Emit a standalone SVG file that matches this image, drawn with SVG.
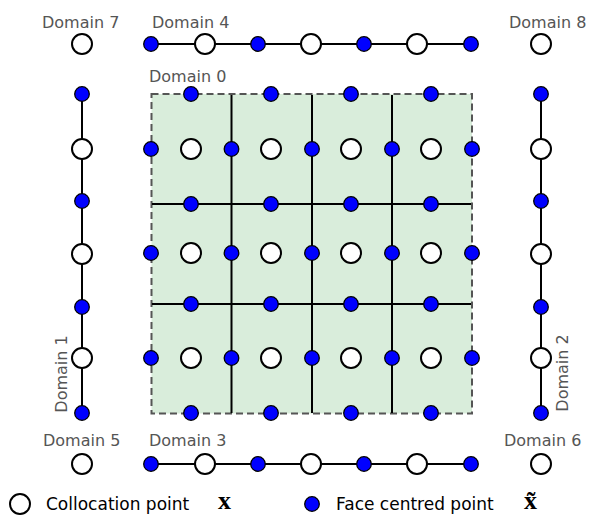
<svg xmlns="http://www.w3.org/2000/svg" width="589" height="515" viewBox="0 0 589 515">
  <style>
    .lbl { font-family: "DejaVu Sans", Verdana, sans-serif; font-size: 16px; fill: #555555; }
    .leg { font-family: "DejaVu Sans", Verdana, sans-serif; font-size: 17px; fill: #000000; }
    .math { font-family: "Liberation Serif", "DejaVu Serif", serif; font-weight: bold; font-size: 26px; fill: #000000; }
    .ln { stroke: #000000; stroke-width: 2; fill: none; }
    .col { fill: #ffffff; stroke: #000000; stroke-width: 2; }
    .fc { fill: #0000ff; stroke: #000000; stroke-width: 1.3; }
  </style>
  <defs>
    <circle id="cp" r="10" class="col"/>
    <circle id="fp" r="7.3" class="fc"/>
  </defs>
  <rect width="589" height="515" fill="#ffffff"/>

  <!-- Domain 0 block: shaded interior with dashed boundary -->
  <g id="domain0-block">
    <rect x="151.5" y="94" width="320.5" height="319.5" fill="#d9eddb" stroke="#555555" stroke-width="2" stroke-dasharray="7,4"/>
  </g>

  <!-- line segments -->
  <g id="connectors">
    <!-- interior cell faces of domain 0 -->
    <line class="ln" x1="152" y1="204" x2="471" y2="204"/>
    <line class="ln" x1="152" y1="304" x2="471" y2="304"/>
    <line class="ln" x1="231.5" y1="95" x2="231.5" y2="413"/>
    <line class="ln" x1="312" y1="95" x2="312" y2="413"/>
    <line class="ln" x1="392" y1="95" x2="392" y2="413"/>
    <!-- edge domains -->
    <line class="ln" x1="151" y1="44" x2="471" y2="44"/>
    <line class="ln" x1="151" y1="464" x2="471" y2="464"/>
    <line class="ln" x1="82" y1="94" x2="82" y2="413"/>
    <line class="ln" x1="541" y1="94" x2="541" y2="413"/>
  </g>

  <g id="domain0">
    <text class="lbl" x="149" y="82">Domain 0</text>
    <!-- horizontal faces -->
    <use href="#fp" x="191" y="94"/><use href="#fp" x="271" y="94"/><use href="#fp" x="351" y="94"/><use href="#fp" x="431" y="94"/>
    <use href="#fp" x="191" y="204"/><use href="#fp" x="271" y="204"/><use href="#fp" x="351" y="204"/><use href="#fp" x="431" y="204"/>
    <use href="#fp" x="191" y="304"/><use href="#fp" x="271" y="304"/><use href="#fp" x="351" y="304"/><use href="#fp" x="431" y="304"/>
    <use href="#fp" x="191" y="413"/><use href="#fp" x="271" y="413"/><use href="#fp" x="351" y="413"/><use href="#fp" x="431" y="413"/>
    <!-- vertical faces -->
    <use href="#fp" x="151" y="149"/><use href="#fp" x="231.5" y="149"/><use href="#fp" x="312" y="149"/><use href="#fp" x="392" y="149"/><use href="#fp" x="472" y="149"/>
    <use href="#fp" x="151" y="253"/><use href="#fp" x="231.5" y="253"/><use href="#fp" x="312" y="253"/><use href="#fp" x="392" y="253"/><use href="#fp" x="472" y="253"/>
    <use href="#fp" x="151" y="358"/><use href="#fp" x="231.5" y="358"/><use href="#fp" x="312" y="358"/><use href="#fp" x="392" y="358"/><use href="#fp" x="472" y="358"/>
    <!-- cell centres -->
    <use href="#cp" x="191" y="149"/><use href="#cp" x="271" y="149"/><use href="#cp" x="351" y="149"/><use href="#cp" x="431" y="149"/>
    <use href="#cp" x="191" y="253"/><use href="#cp" x="271" y="253"/><use href="#cp" x="351" y="253"/><use href="#cp" x="431" y="253"/>
    <use href="#cp" x="191" y="358"/><use href="#cp" x="271" y="358"/><use href="#cp" x="351" y="358"/><use href="#cp" x="431" y="358"/>
  </g>

  <g id="domain1">
    <text class="lbl" transform="translate(67,374) rotate(-90)" text-anchor="middle">Domain 1</text>
    <use href="#fp" x="82" y="94"/><use href="#fp" x="82" y="201"/><use href="#fp" x="82" y="307"/><use href="#fp" x="82" y="413"/>
    <use href="#cp" x="82" y="149"/><use href="#cp" x="82" y="254"/><use href="#cp" x="82" y="358"/>
  </g>

  <g id="domain2">
    <text class="lbl" transform="translate(568,373) rotate(-90)" text-anchor="middle">Domain 2</text>
    <use href="#fp" x="541" y="94"/><use href="#fp" x="541" y="201"/><use href="#fp" x="541" y="307"/><use href="#fp" x="541" y="413"/>
    <use href="#cp" x="541" y="149"/><use href="#cp" x="541" y="254"/><use href="#cp" x="541" y="358"/>
  </g>

  <g id="domain3">
    <text class="lbl" x="149" y="446">Domain 3</text>
    <use href="#fp" x="151" y="464"/><use href="#fp" x="258" y="464"/><use href="#fp" x="364" y="464"/><use href="#fp" x="471" y="464"/>
    <use href="#cp" x="205" y="464"/><use href="#cp" x="311" y="464"/><use href="#cp" x="417" y="464"/>
  </g>

  <g id="domain4">
    <text class="lbl" x="152" y="28">Domain 4</text>
    <use href="#fp" x="151" y="44"/><use href="#fp" x="258" y="44"/><use href="#fp" x="364" y="44"/><use href="#fp" x="471" y="44"/>
    <use href="#cp" x="205" y="44"/><use href="#cp" x="311" y="44"/><use href="#cp" x="417" y="44"/>
  </g>

  <g id="domain5">
    <text class="lbl" x="43" y="446">Domain 5</text>
    <use href="#cp" x="82" y="464"/>
  </g>

  <g id="domain6">
    <text class="lbl" x="504" y="446">Domain 6</text>
    <use href="#cp" x="541" y="464"/>
  </g>

  <g id="domain7">
    <text class="lbl" x="42" y="28">Domain 7</text>
    <use href="#cp" x="82" y="44"/>
  </g>

  <g id="domain8">
    <text class="lbl" x="509" y="28">Domain 8</text>
    <use href="#cp" x="541" y="44"/>
  </g>

  <!-- legend -->
  <g id="legend">
    <use href="#cp" x="20" y="504"/>
    <text class="leg" x="46" y="510">Collocation point</text>
    <text class="math" x="218" y="508.5">x</text>
    <use href="#fp" x="312" y="504"/>
    <text class="leg" x="336" y="510">Face centred point</text>
    <text class="math" x="524" y="508.5">x&#771;</text>
  </g>
</svg>
